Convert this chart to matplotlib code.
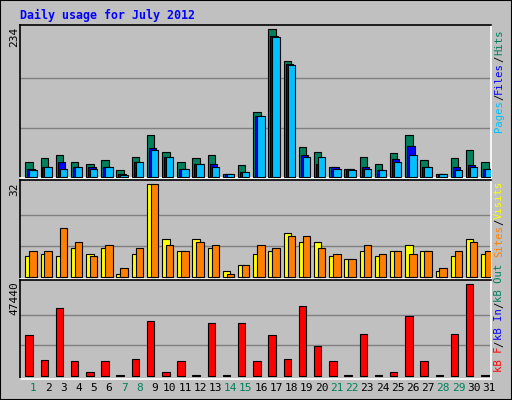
import matplotlib
matplotlib.use("Agg")
import matplotlib.pyplot as plt
from matplotlib.patches import Rectangle
import numpy as np

days = list(range(1, 32))
weekend = [1, 7, 8, 14, 15, 21, 22, 28, 29]
hits = [23,29,35,24,20,26,10,31,66,40,23,29,34,4,18,102,234,183,47,40,15,12,32,20,37,67,26,5,29,43,23]
files = [12,16,23,16,15,16,4,23,45,32,12,20,20,4,7,97,224,179,34,20,15,12,15,10,28,48,15,5,16,18,13]
pages = [10,15,12,16,13,16,2,23,43,32,12,20,15,4,7,96,221,177,31,31,13,10,12,10,24,35,15,4,10,15,12]
visits = [7,8,7,10,8,10,1,8,32,13,9,13,10,2,4,8,9,15,12,12,7,6,9,7,9,11,9,2,7,13,8]
sites = [9,9,17,12,7,11,3,10,32,11,9,12,11,1,4,11,10,14,14,10,8,6,11,8,9,8,9,3,9,12,9]
kbytes = [20950,7960,34970,7440,1730,7440,600,8480,28220,1730,7440,600,27180,600,27180,7440,
          20950,8480,36000,15230,7440,600,21460,600,1730,30810,7440,600,21460,47440,600]

BG = "#C0C0C0"
W, H = 512, 400
fig = plt.figure(figsize=(W/100, H/100), dpi=100, facecolor=BG)
fig.patches.append(Rectangle((0, 0), 1, 1, transform=fig.transFigure, fill=False,
                             edgecolor="black", linewidth=1.5))

def mkax(top, bottom, left=20, right=491):
    ax = fig.add_axes([left/W, 1-bottom/H, (right-left)/W, (bottom-top)/H])
    ax.set_facecolor(BG)
    ax.spines['left'].set_color('black'); ax.spines['top'].set_color('black')
    ax.spines['right'].set_color('white'); ax.spines['bottom'].set_color('white')
    for s in ax.spines.values(): s.set_linewidth(1.2)
    ax.set_xlim(0.5, 31.5)
    ax.set_xticks([]); ax.set_yticks([])
    return ax

x = np.array(days, dtype=float)
w = 0.49
kw = dict(width=w, align='edge', edgecolor='black', linewidth=0.8, zorder=3)

ax1 = mkax(25, 178)
ax1.set_ylim(-2, 240.8)
for g in [78, 156]:
    ax1.axhline(g, color='#808080', lw=1, zorder=1)
ax1.bar(x-0.15, hits, color='#00805C', **kw)
ax1.bar(x-0.02, files, color='#0000FF', **kw)
ax1.bar(x+0.11, pages, color='#00C0FF', **kw)

ax2 = mkax(180, 279)
ax2.set_ylim(-0.8, 33.5)
for g in [32/3, 64/3]:
    ax2.axhline(g, color='#808080', lw=1, zorder=1)
ax2.bar(x-0.15, visits, color='#FFFF00', **kw)
ax2.bar(x+0.11, sites, color='#FF8000', **kw)

ax3 = mkax(280, 379)
ax3.set_ylim(-1700, 49670)
for g in [47440/3, 2*47440/3]:
    ax3.axhline(g, color='#808080', lw=1, zorder=1)
ax3.bar(x-0.15, kbytes, color='#FF0000', **kw)
ax3.set_xticks(x+0.36)
ax3.set_xticklabels([str(d) for d in days], family='DejaVu Sans Mono', fontsize=8)
ax3.tick_params(axis='x', length=0, pad=3)
for lbl, d in zip(ax3.get_xticklabels(), days):
    lbl.set_color('#00805C' if d in weekend else 'black')

mono = 'DejaVu Sans Mono'
fig.text(20/W, 1-15/H, "Daily usage for July 2012", color='#0000FF', family=mono,
         fontsize=8.4, fontweight='bold', va='center', ha='left')

for txt, ytop in [("234", 27), ("32", 182), ("47440", 281)]:
    fig.text(14/W, 1-ytop/H, txt, rotation=90, family=mono, fontsize=8,
             ha='center', va='top', color='black')

FS = 7.6
ADV = 0.602 * FS * 100 / 72  # px per char

def multi(parts, xpx, ypx, anchor):
    total = sum(len(p) for p, c in parts)
    # rotated text reads bottom-to-top; first part is lowest
    ybot = ypx + total*ADV if anchor == 'top' else ypx
    pos = 0
    for p, c in parts:
        yb = ybot - pos*ADV
        fig.text(xpx/W, 1-yb/H, p, rotation=90, family=mono, fontsize=FS,
                 color=c, ha='center', va='bottom')
        pos += len(p)

multi([("Pages", '#00C0FF'), ("/", 'black'), ("Files", '#0000FF'),
       ("/", 'black'), ("Hits", '#00805C')], 499, 30, 'top')
multi([("Sites", '#FF8000'), ("/", 'black'), ("Visits", '#FFFF00')], 499, 181, 'top')
multi([("kB F", '#FF0000'), ("/", 'black'), ("kB In", '#0000FF'),
       ("/", 'black'), ("kB Out", '#00805C')], 499, 372, 'bottom')

fig.savefig("out.png", dpi=100, facecolor=BG)
